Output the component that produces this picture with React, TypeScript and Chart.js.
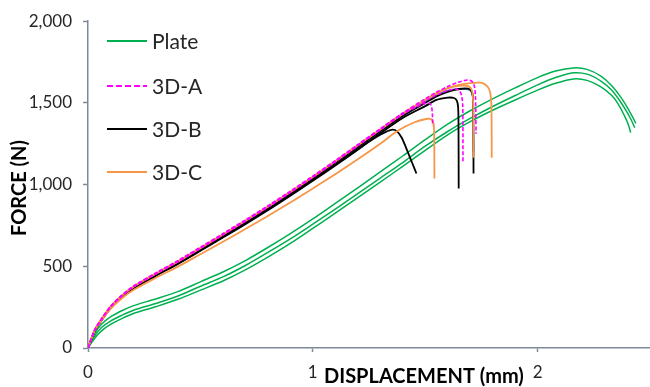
import React, { useEffect, useRef } from 'react';
import { Chart, registerables } from 'chart.js';

Chart.register(...registerables);

// ---------- DATA ----------
const SERIES_NAMES = ['Plate', '3D-A', '3D-B', '3D-C'];
const X_TICKS = [0, 1, 2];
const Y_TICKS = [0, 500, 1000, 1500, 2000];

// Plate (3 specimens)
const PLATE1_X = [0, 0.03, 0.06, 0.1, 0.15, 0.2, 0.3, 0.4, 0.5, 0.6, 0.7, 0.8, 0.9, 1.0, 1.1, 1.2, 1.3, 1.4, 1.5, 1.6, 1.7, 1.8, 1.9, 2.0, 2.08, 2.16, 2.22, 2.28, 2.33, 2.37, 2.4, 2.42, 2.437];
const PLATE1_Y = [0, 90, 145, 190, 228, 258, 300, 345, 405, 465, 535, 615, 700, 790, 885, 980, 1078, 1175, 1275, 1370, 1452, 1525, 1592, 1655, 1695, 1714, 1705, 1665, 1605, 1535, 1470, 1420, 1375];
const PLATE2_X = [0, 0.03, 0.06, 0.1, 0.15, 0.2, 0.3, 0.4, 0.5, 0.6, 0.7, 0.8, 0.9, 1.0, 1.1, 1.2, 1.3, 1.4, 1.5, 1.6, 1.7, 1.8, 1.9, 2.0, 2.08, 2.16, 2.22, 2.28, 2.33, 2.365, 2.395, 2.415, 2.432];
const PLATE2_Y = [0, 75, 125, 165, 200, 230, 272, 318, 378, 435, 505, 585, 668, 758, 850, 945, 1040, 1135, 1235, 1325, 1405, 1478, 1545, 1610, 1655, 1684, 1676, 1635, 1578, 1515, 1450, 1400, 1348];
const PLATE3_X = [0, 0.03, 0.06, 0.1, 0.15, 0.2, 0.3, 0.4, 0.5, 0.6, 0.7, 0.8, 0.9, 1.0, 1.1, 1.2, 1.3, 1.4, 1.5, 1.6, 1.7, 1.8, 1.9, 2.0, 2.08, 2.16, 2.22, 2.28, 2.33, 2.36, 2.385, 2.403, 2.414];
const PLATE3_Y = [0, 60, 105, 145, 180, 210, 252, 298, 354, 410, 478, 556, 640, 732, 825, 920, 1015, 1112, 1210, 1305, 1385, 1455, 1518, 1578, 1620, 1647, 1638, 1600, 1545, 1490, 1425, 1370, 1318];

// 3D-A (3 specimens)
const A1_X = [0, 0.03, 0.06, 0.1, 0.15, 0.2, 0.3, 0.4, 0.5, 0.6, 0.7, 0.8, 0.9, 1.0, 1.1, 1.2, 1.3, 1.4, 1.46, 1.5, 1.52, 1.528, 1.532, 1.533];
const A1_Y = [0, 110, 176, 252, 320, 375, 455, 531, 612, 695, 779, 865, 955, 1048, 1143, 1240, 1338, 1432, 1475, 1497, 1497, 1480, 1430, 1360];
const A2_X = [0, 0.03, 0.06, 0.1, 0.15, 0.2, 0.3, 0.4, 0.5, 0.6, 0.7, 0.8, 0.9, 1.0, 1.1, 1.2, 1.3, 1.4, 1.5, 1.55, 1.6, 1.65, 1.69, 1.708, 1.718, 1.723, 1.725, 1.726];
const A2_Y = [0, 112, 178, 254, 322, 377, 458, 535, 617, 700, 784, 870, 960, 1052, 1147, 1245, 1342, 1438, 1525, 1565, 1600, 1628, 1640, 1632, 1605, 1550, 1450, 1311];
const A3_X = [0, 0.03, 0.06, 0.1, 0.15, 0.2, 0.3, 0.4, 0.5, 0.6, 0.7, 0.8, 0.9, 1.0, 1.1, 1.2, 1.3, 1.4, 1.5, 1.55, 1.6, 1.635, 1.652, 1.662, 1.667, 1.668];
const A3_Y = [0, 108, 174, 250, 318, 372, 452, 528, 610, 692, 776, 862, 952, 1045, 1140, 1238, 1335, 1430, 1510, 1548, 1575, 1585, 1575, 1545, 1480, 1135];

// 3D-B (3 specimens)
const B1_X = [0, 0.03, 0.06, 0.1, 0.15, 0.2, 0.3, 0.4, 0.5, 0.6, 0.7, 0.8, 0.9, 1.0, 1.1, 1.2, 1.25, 1.3, 1.33, 1.355, 1.375, 1.395, 1.415, 1.44, 1.461];
const B1_Y = [0, 104, 168, 242, 310, 362, 440, 515, 595, 676, 758, 843, 932, 1023, 1117, 1213, 1262, 1305, 1326, 1336, 1326, 1288, 1225, 1140, 1068];
const B2_X = [0, 0.03, 0.06, 0.1, 0.15, 0.2, 0.3, 0.4, 0.5, 0.6, 0.7, 0.8, 0.9, 1.0, 1.1, 1.2, 1.3, 1.4, 1.5, 1.55, 1.6, 1.628, 1.64, 1.646, 1.648, 1.649];
const B2_Y = [0, 105, 170, 245, 312, 365, 443, 518, 598, 680, 762, 848, 937, 1028, 1122, 1218, 1314, 1408, 1480, 1518, 1532, 1530, 1515, 1480, 1400, 976];
const B3_X = [0, 0.03, 0.06, 0.1, 0.15, 0.2, 0.3, 0.4, 0.5, 0.6, 0.7, 0.8, 0.9, 1.0, 1.1, 1.2, 1.3, 1.4, 1.5, 1.55, 1.6, 1.65, 1.69, 1.705, 1.712, 1.714, 1.715];
const B3_Y = [0, 106, 172, 248, 315, 368, 448, 523, 604, 686, 770, 856, 946, 1038, 1133, 1230, 1326, 1420, 1500, 1540, 1568, 1585, 1587, 1575, 1540, 1400, 1068];
const B4_X = [0, 0.03, 0.06, 0.1, 0.15, 0.2, 0.3, 0.4, 0.5, 0.6, 0.7, 0.8, 0.9, 1.0, 1.1, 1.2, 1.3, 1.4, 1.5, 1.55, 1.6, 1.65, 1.69, 1.705, 1.712, 1.714, 1.715];
const B4_Y = [0, 107, 173, 250, 317, 371, 451, 527, 609, 691, 775, 861, 951, 1043, 1138, 1236, 1333, 1428, 1512, 1552, 1575, 1585, 1582, 1568, 1535, 1400, 1200];

// 3D-C (3 specimens)
const C1_X = [0, 0.03, 0.06, 0.1, 0.15, 0.2, 0.3, 0.4, 0.5, 0.6, 0.7, 0.8, 0.9, 1.0, 1.1, 1.2, 1.3, 1.376, 1.45, 1.51, 1.528, 1.537, 1.54, 1.541];
const C1_Y = [0, 106, 168, 240, 303, 353, 428, 498, 574, 650, 728, 808, 890, 976, 1064, 1155, 1250, 1328, 1380, 1403, 1398, 1375, 1300, 1037];
const C2_X = [0, 0.03, 0.06, 0.1, 0.15, 0.2, 0.3, 0.4, 0.5, 0.6, 0.7, 0.8, 0.9, 1.0, 1.1, 1.2, 1.3, 1.4, 1.5, 1.55, 1.6, 1.65, 1.685, 1.703, 1.711, 1.714, 1.715];
const C2_Y = [0, 110, 177, 253, 320, 374, 454, 530, 612, 695, 779, 865, 955, 1048, 1143, 1241, 1338, 1434, 1520, 1560, 1590, 1604, 1605, 1590, 1555, 1450, 1165];
const C3_X = [0, 0.03, 0.06, 0.1, 0.15, 0.2, 0.3, 0.4, 0.5, 0.6, 0.7, 0.8, 0.9, 1.0, 1.1, 1.2, 1.3, 1.4, 1.5, 1.55, 1.6, 1.65, 1.7, 1.746, 1.77, 1.785, 1.792, 1.795, 1.796];
const C3_Y = [0, 111, 177, 252, 319, 373, 453, 529, 611, 694, 778, 864, 954, 1047, 1142, 1240, 1337, 1433, 1518, 1555, 1590, 1610, 1621, 1624, 1610, 1582, 1535, 1460, 1165];

// ---------- STYLES ----------
const COLORS = {
  Plate: '#00b050',
  '3D-A': '#ff00ff',
  '3D-B': '#000000',
  '3D-C': '#f79646',
  blue: '#3a8fd6',
};
const AXIS_COLOR = '#7f8a99';
const TEXT_COLOR = '#262626';
const FONT = 'Lato, "Open Sans", sans-serif';

const pts = (xs: number[], ys: number[]) => xs.map((x, i) => ({ x, y: ys[i] }));

function line(label: string, xs: number[], ys: number[], color: string, order: number, width: number, dash: number[] = []) {
  return {
    label,
    data: pts(xs, ys),
    borderColor: color,
    backgroundColor: color,
    borderWidth: width,
    borderDash: dash,
    pointRadius: 0,
    tension: 0.3,
    fill: false,
    order,
  };
}

const overlayPlugin = {
  id: 'overlay',
  afterDraw(chart: any) {
    const ctx = chart.ctx;
    ctx.save();
    // legend
    const items = [
      { name: SERIES_NAMES[0], color: COLORS.Plate, dash: [] as number[] },
      { name: SERIES_NAMES[1], color: COLORS['3D-A'], dash: [6, 3] },
      { name: SERIES_NAMES[2], color: COLORS['3D-B'], dash: [] as number[] },
      { name: SERIES_NAMES[3], color: COLORS['3D-C'], dash: [] as number[] },
    ];
    const rows = [41, 86, 129, 172];
    items.forEach((it, i) => {
      const y = rows[i];
      ctx.beginPath();
      ctx.setLineDash(it.dash);
      ctx.strokeStyle = it.color;
      ctx.lineWidth = 2;
      ctx.moveTo(107, y);
      ctx.lineTo(147, y);
      ctx.stroke();
      ctx.setLineDash([]);
      ctx.fillStyle = TEXT_COLOR;
      ctx.font = `21px ${FONT}`;
      ctx.textAlign = 'left';
      ctx.textBaseline = 'middle';
      ctx.fillText(it.name, 152, y + 1);
    });
    // axis titles
    ctx.fillStyle = '#000';
    ctx.font = `bold 20px ${FONT}`;
    ctx.textAlign = 'left';
    ctx.textBaseline = 'alphabetic';
    ctx.fillText('DISPLACEMENT (mm)', 324, 383);
    ctx.translate(20, 188);
    ctx.rotate(-Math.PI / 2);
    ctx.textAlign = 'center';
    ctx.textBaseline = 'middle';
    ctx.fillText('FORCE (N)', 0, 0);
    ctx.restore();
  },
};

export default function App() {
  const ref = useRef<HTMLCanvasElement>(null);
  useEffect(() => {
    if (!ref.current) return;
    const datasets = [
      line('3D-A', A1_X, A1_Y, COLORS['3D-A'], 0, 1.6, [4, 2]),
      line('3D-A', A2_X, A2_Y, COLORS['3D-A'], 0, 1.6, [4, 2]),
      line('3D-A', A3_X, A3_Y, COLORS['3D-A'], 0, 1.6, [4, 2]),
      line('3D-C', C1_X, C1_Y, COLORS['3D-C'], 1, 1.8),
      line('3D-C', C2_X, C2_Y, COLORS['3D-C'], 1, 1.8),
      line('3D-C', C3_X, C3_Y, COLORS['3D-C'], 1, 1.8),
      line('3D-B', B1_X, B1_Y, COLORS['3D-B'], 2, 1.8),
      line('3D-B', B2_X, B2_Y, COLORS['3D-B'], 2, 1.8),
      line('3D-B', B3_X, B3_Y, COLORS['3D-B'], 2, 1.8),
      line('3D-B', B4_X, B4_Y, COLORS.blue, 3, 1.6),
      line('Plate', PLATE1_X, PLATE1_Y, COLORS.Plate, 4, 1.5),
      line('Plate', PLATE2_X, PLATE2_Y, COLORS.Plate, 4, 1.5),
      line('Plate', PLATE3_X, PLATE3_Y, COLORS.Plate, 4, 1.5),
    ];
    const chart = new Chart(ref.current, {
      type: 'line',
      data: { datasets },
      options: {
        responsive: false,
        maintainAspectRatio: false,
        animation: false,
        layout: { padding: { left: 0, right: 0, top: 20, bottom: 0 } },
        plugins: { legend: { display: false }, tooltip: { enabled: false } },
        scales: {
          x: {
            type: 'linear',
            min: 0,
            max: 2.5,
            afterBuildTicks: (s: any) => { s.ticks = X_TICKS.map((v) => ({ value: v })); },
            ticks: { stepSize: 1, includeBounds: false, color: TEXT_COLOR, font: { family: FONT, size: 17 }, padding: 10, maxRotation: 0 },
            grid: { drawOnChartArea: false, drawTicks: true, tickLength: 4, tickColor: AXIS_COLOR, tickWidth: 1.5 },
            border: { color: AXIS_COLOR, width: 1.5 },
            afterFit: (s: any) => { s.height = 39; },
          },
          y: {
            type: 'linear',
            min: 0,
            max: 2000,
            afterBuildTicks: (s: any) => { s.ticks = Y_TICKS.map((v) => ({ value: v })); },
            ticks: {
              stepSize: 500,
              color: TEXT_COLOR,
              font: { family: FONT, size: 17 },
              padding: 11,
              callback: (v: any) => Number(v).toLocaleString('en-US'),
            },
            grid: { drawOnChartArea: false, drawTicks: true, tickLength: 5, tickColor: AXIS_COLOR, tickWidth: 1.5 },
            border: { color: AXIS_COLOR, width: 1.5 },
            afterFit: (s: any) => { s.width = 88; },
          },
        },
      },
      plugins: [overlayPlugin],
    });
    return () => chart.destroy();
  }, []);
  return (
    <div style={{ position: 'fixed', left: 0, top: 0, width: 650, height: 387, background: '#fff' }}>
      <canvas ref={ref} width={650} height={387} />
    </div>
  );
}
